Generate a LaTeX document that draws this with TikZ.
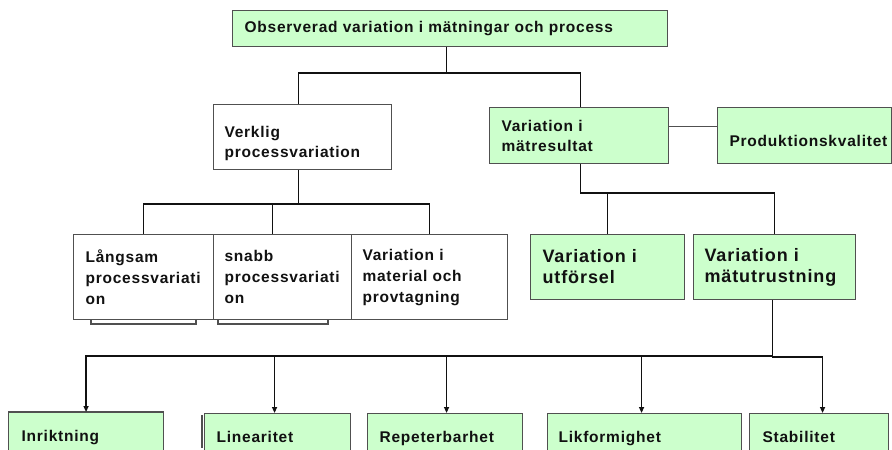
\documentclass[tikz,border=0pt]{standalone}
\usepackage{fontspec}
\setmainfont{Liberation Sans}[LetterSpace=5]
\usetikzlibrary{arrows.meta}
\definecolor{boxgreen}{HTML}{CCFFCC}
\definecolor{bordc}{HTML}{505050}
\definecolor{inkc}{HTML}{111111}
\begin{document}
\begin{tikzpicture}[x=1pt,y=-1pt,
  font=\bfseries\fontsize{15.5}{20}\selectfont, text=inkc,
  box/.style={draw=bordc, line width=1.1pt, anchor=north west, align=left, inner ysep=0pt},
  gbox/.style={box, fill=boxgreen},
  wbox/.style={box, fill=white},
  big/.style={font=\bfseries\fontsize{18}{21}\selectfont},
  three/.style={font=\bfseries\fontsize{15.5}{21}\selectfont},
  conn/.style={draw=inkc, line width=1.4pt},
  arr/.style={conn, -{Triangle[length=6pt,width=5pt]}},
  shadowline/.style={draw=bordc, line width=1.6pt}]
\clip (0,0) rectangle (892,450);
\fill[white] (0,0) rectangle (892,450);

% level 0
\node[gbox, inner xsep=12pt, text width=411pt, minimum height=36pt,
      text height=11pt, text depth=3.5pt] (top) at (232,10)
  {Observerad variation i mätningar och process};

% level 1
\node[wbox, inner xsep=11pt, text width=156pt, minimum height=65pt,
      text height=25pt] (verklig) at (213,104)
  {Verklig\\processvariation};
\node[gbox, inner xsep=12pt, text width=155pt, minimum height=56pt] (matres) at (489,107)
  {Variation i\\mätresultat};
\node[gbox, inner xsep=12pt, text width=150pt, minimum height=56pt,
      text height=24pt, text depth=2pt] (prod) at (717,107)
  {Produktionskvalitet};

% level 2, left branch
\node[wbox, three, inner xsep=12pt, text width=116pt, minimum height=85pt] (c1) at (73,234)
  {Långsam\\processvariati\\on};
\node[wbox, three, inner xsep=11pt, text width=116pt, minimum height=85pt] (c2) at (213,234)
  {snabb\\processvariati\\on};
\node[wbox, three, inner xsep=11pt, text width=134pt, minimum height=85pt] (c3) at (351,234)
  {Variation i\\material och\\provtagning};

% level 2, right branch
\node[gbox, big, inner xsep=12pt, text width=130pt, minimum height=65pt] (ut) at (530,234)
  {Variation i\\utförsel};
\node[gbox, big, inner xsep=11pt, text width=140pt, minimum height=65pt] (mutr) at (693,234)
  {Variation i\\mätutrustning};

% level 3
\tikzset{leaf/.style={gbox, minimum height=50pt, text height=11pt, text depth=3.5pt}}
\node[leaf, inner xsep=13pt, text width=129pt] (inr) at (8,412) {Inriktning};
\node[leaf, inner xsep=12pt, text width=122pt] (lin) at (204,413) {Linearitet};
\node[leaf, inner xsep=12pt, text width=131pt] (rep) at (367,413) {Repeterbarhet};
\node[leaf, inner xsep=11pt, text width=172pt] (lik) at (547,413) {Likformighet};
\node[leaf, inner xsep=13pt, text width=113pt] (stab) at (749,413) {Stabilitet};

% shadow edges
\draw[shadowline] ([xshift=18pt]c1.south west) -- ++(0,4) -| ([xshift=-18pt]c1.south east);
\draw[shadowline] ([xshift=5pt]c2.south west) -- ++(0,4) -| ([xshift=-24pt]c2.south east);
\draw[shadowline] ([xshift=-2pt,yshift=-2pt]lin.north west) -- ++(0,33);
\draw[shadowline] (inr.north west) -- (inr.north east);

% connectors
\draw[conn] ([xshift=-3.5pt]top.south) -- ++(0,26) coordinate (b1) -| ([xshift=-4pt]verklig.north);
\draw[conn] (b1) -| ([xshift=1.5pt]matres.north);
\draw[draw=bordc, line width=1.2pt] ([yshift=9pt]matres.east) -- ([yshift=9pt]prod.west);

\draw[conn] ([xshift=-4pt]verklig.south) -- ++(0,34) coordinate (b2) -| (c1.north);
\draw[conn] (b2) -| ([xshift=-10pt]c2.north);
\draw[conn] (b2) -| (c3.north);

\draw[conn] ([xshift=1.5pt]matres.south) -- ++(0,29) coordinate (b3) -| (mutr.north);
\draw[conn] (b3 -| ut.north) -- (ut.north);

% entry points on the leaves
\coordinate (tinr) at (inr.north);
\coordinate (tlin) at ([xshift=-3pt]lin.north);
\coordinate (trep) at ([xshift=1.5pt]rep.north);
\coordinate (tlik) at ([xshift=-3pt]lik.north);
\coordinate (tstab) at ([xshift=3.5pt]stab.north);

% bus to the five leaves
\draw[conn] ([xshift=-2pt]mutr.south) -- ++(0,56) coordinate (b4);
\draw[arr] (b4) -| (tinr);
\draw[arr] (b4) -- ++(0,1) coordinate (b5) -| (tstab);
\draw[arr] (b4 -| tlin) -- (tlin);
\draw[arr] (b4 -| trep) -- (trep);
\draw[arr] (b4 -| tlik) -- (tlik);
\end{tikzpicture}
\end{document}
